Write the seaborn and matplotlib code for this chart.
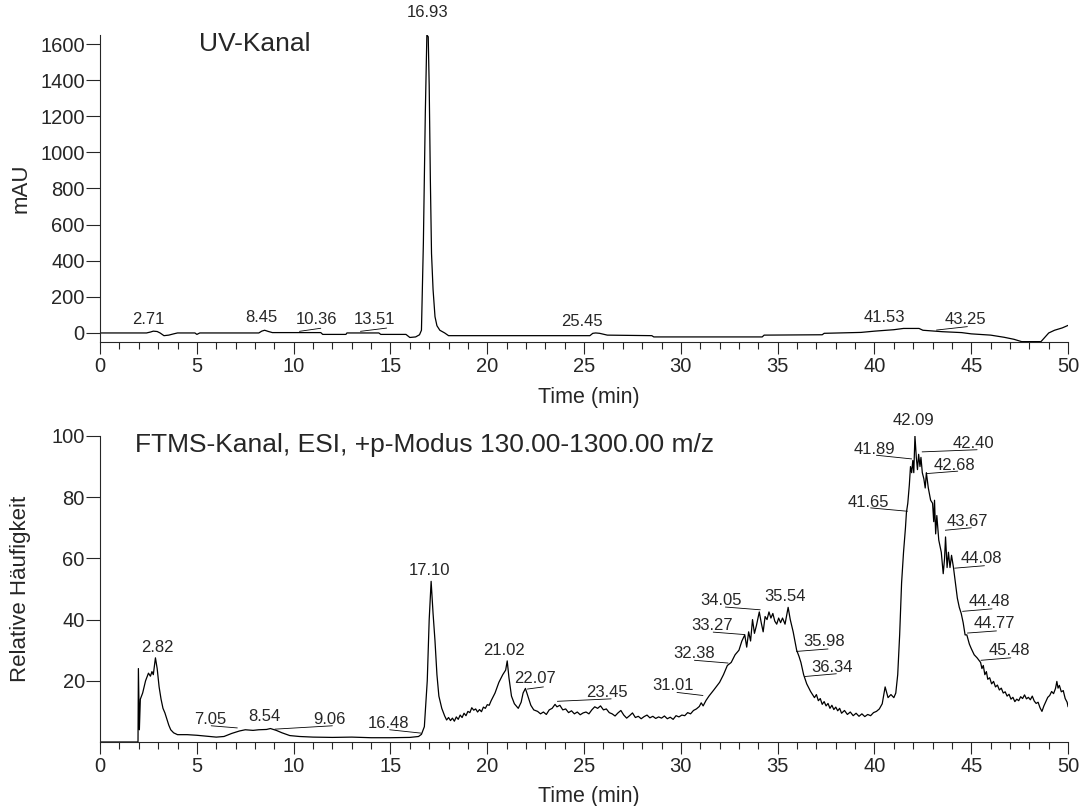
import matplotlib
matplotlib.use("Agg")
import matplotlib.pyplot as plt
from matplotlib.ticker import MultipleLocator
import seaborn as sns

# UV channel trace (time in min, mAU)
UV_TIME = [0, 2.4, 2.6, 2.75, 2.95, 3.1, 3.3, 3.55, 3.8, 4.0, 4.9, 5.0, 5.15, 8.2, 8.35,
           8.5, 8.7, 8.9, 11.4, 11.5, 12.7, 12.75, 14.4, 14.5, 15.8, 16.0, 16.3, 16.5,
           16.6, 16.7, 16.8, 16.88, 16.95, 17.0, 17.06, 17.12, 17.2, 17.3, 17.4, 17.55,
           17.8, 18.0, 25.3, 25.45, 25.6, 25.8, 26.2, 28.5, 28.6, 34.2, 34.3, 37.3, 37.4,
           39.3, 40.0, 41.0, 41.5, 42.3, 42.5, 43.5, 44.5, 45.0, 46.0, 46.7, 47.2, 47.6,
           48.6, 49.0, 49.3, 49.7, 50.0]
UV_MAU = [0, 0, 5, 10, 8, 0, -15, -12, -5, 0, 0, -8, 0, 0, 10,
          15, 8, 2, 2, -8, -8, 0, 0, -8, -8, -25, -22, -10,
          15, 500, 1220, 1650, 1640, 1370, 850, 440, 240, 90, 40, 15,
          0, -15, -15, -2, 0, -2, -12, -15, -22, -22, -12, -10, -2,
          3, 10, 18, 25, 25, 15, 7, 2, -5, -12, -24, -35, -48,
          -48, 0, 15, 28, 42]

# FTMS channel trace (time in min, relative abundance), ten points per line
MS_TIME = [0, 1.96, 1.98, 2.03, 2.08, 2.2, 2.35, 2.5, 2.6, 2.68,
           2.75, 2.86, 2.95, 3.05, 3.15, 3.25, 3.35, 3.45, 3.55, 3.65,
           3.8, 4.0, 4.5, 5.0, 5.5, 6.0, 6.4, 6.8, 7.2, 7.5,
           7.9, 8.2, 8.6, 8.8, 9.1, 9.4, 9.8, 10.3, 11.0, 12.0,
           13.0, 14.0, 15.0, 16.0, 16.45, 16.6, 16.75, 16.9, 17.0, 17.1,
           17.2, 17.3, 17.4, 17.5, 17.65, 17.8, 17.9, 18.0, 18.1, 18.2,
           18.3, 18.4, 18.5, 18.6, 18.7, 18.8, 18.9, 19.0, 19.1, 19.2,
           19.3, 19.4, 19.5, 19.6, 19.7, 19.8, 19.9, 20.0, 20.1, 20.2,
           20.4, 20.6, 20.8, 20.95, 21.03, 21.12, 21.25, 21.4, 21.6, 21.75,
           21.85, 21.97, 22.1, 22.25, 22.4, 22.6, 22.75, 22.9, 23.05, 23.2,
           23.35, 23.5, 23.6, 23.75, 23.9, 24.05, 24.2, 24.35, 24.5, 24.65,
           24.8, 24.95, 25.1, 25.25, 25.4, 25.55, 25.7, 25.85, 26.0, 26.15,
           26.3, 26.45, 26.6, 26.75, 26.9, 27.05, 27.2, 27.35, 27.5, 27.65,
           27.8, 27.95, 28.1, 28.25, 28.4, 28.55, 28.7, 28.85, 29.0, 29.15,
           29.3, 29.45, 29.6, 29.75, 29.9, 30.05, 30.2, 30.35, 30.5, 30.65,
           30.8, 30.95, 31.05, 31.15, 31.3, 31.45, 31.7, 32.0, 32.2, 32.4,
           32.6, 32.8, 33.0, 33.15, 33.3, 33.4, 33.5, 33.6, 33.7, 33.8,
           33.9, 34.05, 34.15, 34.25, 34.35, 34.45, 34.55, 34.65, 34.75, 34.85,
           34.95, 35.05, 35.15, 35.25, 35.38, 35.54, 35.65, 35.8, 35.98, 36.1,
           36.2, 36.34, 36.5, 36.7, 36.9, 37.0, 37.1, 37.2, 37.3, 37.4,
           37.5, 37.6, 37.7, 37.8, 37.9, 38.0, 38.1, 38.2, 38.3, 38.45,
           38.6, 38.75, 38.9, 39.05, 39.2, 39.35, 39.5, 39.65, 39.8, 39.95,
           40.1, 40.25, 40.4, 40.55, 40.7, 40.85, 41.0, 41.1, 41.2, 41.3,
           41.4, 41.5, 41.6, 41.65, 41.72, 41.8, 41.86, 41.92, 41.98, 42.03,
           42.09, 42.16, 42.22, 42.28, 42.35, 42.4, 42.47, 42.55, 42.62, 42.68,
           42.78, 42.9, 43.0, 43.06, 43.1, 43.16, 43.22, 43.32, 43.45, 43.55,
           43.62, 43.67, 43.75, 43.82, 43.9, 43.98, 44.08, 44.18, 44.28, 44.38,
           44.48, 44.58, 44.68, 44.77, 44.9, 45.0, 45.15, 45.3, 45.48, 45.55,
           45.62, 45.7, 45.78, 45.85, 45.95, 46.05, 46.15, 46.25, 46.35, 46.45,
           46.55, 46.65, 46.75, 46.85, 46.95, 47.05, 47.15, 47.25, 47.35, 47.45,
           47.55, 47.65, 47.75, 47.85, 47.95, 48.05, 48.15, 48.25, 48.35, 48.45,
           48.55, 48.65, 48.75, 48.85, 48.95, 49.05, 49.15, 49.25, 49.35, 49.42,
           49.48, 49.55, 49.65, 49.75, 49.85, 49.95, 50.0]
MS_REL = [0, 0, 24, 4, 14, 16, 20, 22.5, 21.5, 23,
          22, 27.5, 24, 18, 14, 11, 9.5, 7.5, 5.5, 4,
          3, 2.4, 2.4, 2.2, 1.9, 1.6, 1.8, 2.8, 3.6, 4.0,
          3.8, 4.0, 4.1, 4.4, 3.8, 3.0, 2.1, 1.8, 1.6, 1.5,
          1.6, 1.4, 1.4, 1.5, 1.8, 2.5, 5, 20, 40, 52.5,
          42, 33, 22, 15, 11, 8.5, 7.2, 8, 7, 7.8,
          6.8, 8.2, 7.4, 8.8, 8, 9.4, 8.6, 10, 9.6, 11.2,
          10.4, 10.8, 9.8, 10.6, 9.9, 11.4, 11, 12.2, 12, 13.5,
          16, 19.5, 22, 23.5, 26.5, 21, 15, 12.5, 11, 13,
          16, 17.5, 15, 12, 10.5, 10, 9.2, 9.8, 9, 10.5,
          11, 12.3, 11.5, 12, 10.5, 10.8, 9.6, 10.2, 9.2, 9.8,
          8.9, 9.5, 9.8, 9.2, 10.5, 11.5, 11, 11.8, 10.5, 10.8,
          9.6, 9.2, 8.5, 9.5, 10.3, 8.8, 7.8, 8.6, 9.5, 8,
          8.4, 7.6, 8.3, 8.8, 7.9, 8.4, 7.7, 8.2, 7.8, 8.5,
          7.6, 8.1, 7.4, 8.6, 8.2, 8.8, 8.6, 9.6, 9.2, 10.3,
          10.8, 11.6, 12.8, 11.8, 13.6, 15, 17, 19.5, 22, 25,
          26, 28.5, 30, 33, 35, 31, 36, 33, 40, 35.5,
          38, 42.5, 39, 36, 41, 40, 42.5, 40.5, 42, 39.5,
          38.5, 40.5, 39, 40.5, 38.5, 44, 40, 36, 30, 28,
          26, 22, 19, 16.5, 14.5, 15.5, 13.5, 14.2, 12.3, 13.2,
          11.8, 12.6, 11, 12, 10.6, 11.4, 10.2, 11, 9.4, 10.3,
          9, 9.8, 8.6, 9.4, 8.4, 9.2, 8.3, 9, 8.6, 9.6,
          10, 10.8, 12.5, 18, 14.5, 15.5, 14.5, 16, 22, 35,
          52, 62, 70, 75, 78, 84, 90, 88, 92, 88,
          100, 93, 89, 94, 90, 93, 88, 86, 83, 88,
          83, 79, 78, 72, 79, 68, 74, 66, 62, 55,
          60, 67, 57, 62, 57, 61, 57, 52, 47, 44,
          42, 39, 35, 35, 32, 30.5, 28.5, 27.5, 26, 24,
          25, 22, 23, 20.5, 21, 19, 19.8, 18, 18.6, 17,
          17.6, 16, 16.4, 15, 15.6, 14, 14.6, 13.2, 14, 13.5,
          14.8, 14.2, 15.4, 14.1, 14.6, 13.8, 15, 13.4, 12.6, 13,
          11.2, 10, 11.8, 13.2, 14.6, 15.2, 16.5, 15.8, 17.5, 19.8,
          17.6, 18.5, 16.4, 16.8, 14.2, 13, 11.5]

UV_PEAKS = ["2.71", "8.45", "10.36", "13.51", "16.93", "25.45", "41.53", "43.25"]
MS_PEAKS = ["2.82", "7.05", "8.54", "9.06", "16.48", "17.10", "21.02", "22.07", "23.45",
            "31.01", "32.38", "33.27", "34.05", "35.54", "35.98", "36.34", "41.65",
            "41.89", "42.09", "42.40", "42.68", "43.67", "44.08", "44.48", "44.77",
            "45.48"]

# label placement (x, y) and leader line ends (x0, y0, x1, y1), or None
UV_LABEL_POS = [(2.48, 72), (8.32, 83), (11.2, 72), (14.17, 72), (16.93, 1777),
                (24.9, 66), (40.5, 83), (44.7, 72)]
UV_LEADERS = [None, None, (10.3, 9, 11.4, 26), (13.45, 9, 14.8, 27), None, None, None,
              (43.2, 16, 44.8, 35)]
MS_LABEL_POS = [(2.95, 31), (5.69, 7.5), (8.48, 8.2), (11.84, 7.2), (14.88, 5.9),
                (17.0, 56), (20.84, 30), (22.44, 20.6), (26.2, 16.3), (29.6, 18.3),
                (30.7, 28.9), (31.6, 38), (32.1, 46.4), (35.4, 47.7), (37.4, 32.7),
                (37.8, 24.5), (39.7, 78.4), (40.0, 95.5), (42.0, 104.9), (45.1, 97.7),
                (44.15, 90.3), (44.8, 72.2), (45.5, 59.8), (45.95, 45.8), (46.17, 38.6),
                (46.95, 30)]
MS_LEADERS = [None, (5.74, 5.3, 7.09, 4.6), None, (9.03, 4.2, 12.0, 5.3),
              (14.96, 4.0, 16.58, 2.9), None, None, (22.07, 17.3, 22.9, 18.0),
              (23.62, 13.3, 26.4, 14.1), (29.8, 16.2, 31.14, 15.2),
              (30.7, 26.7, 32.44, 25.8), (31.67, 35.9, 33.3, 35.1),
              (32.3, 44.1, 34.1, 43.2), None, (35.97, 29.6, 37.6, 30.4),
              (36.4, 21.4, 38.03, 22.3), (39.8, 76.5, 41.7, 75.4),
              (40.1, 93.7, 41.92, 92.5), None, (42.46, 94.8, 45.3, 95.5),
              (42.67, 87.7, 44.3, 88.5), (43.66, 69.2, 45.0, 70.0),
              (44.14, 56.8, 45.68, 57.6), (44.55, 42.7, 46.07, 43.5),
              (44.8, 35.6, 46.3, 36.3), (45.5, 26.7, 47.04, 27.5)]


def style_axis(ax):
    sns.despine(ax=ax)
    ax.set_xlim(0, 50)
    ax.xaxis.set_major_locator(MultipleLocator(5))
    ax.xaxis.set_minor_locator(MultipleLocator(1))
    ax.tick_params(axis="x", which="major", length=8.6, width=0.8, labelsize=14.5, pad=2)
    ax.tick_params(axis="x", which="minor", length=5, width=0.8)
    ax.tick_params(axis="y", length=10, width=0.8, labelsize=14.5, pad=1)
    for s in ax.spines.values():
        s.set_linewidth(0.8)
    ax.set_xlabel("Time (min)", fontsize=15.5)
    ax.xaxis.set_label_coords(0.505, -0.145)
    ax.yaxis.set_label_coords(-0.071, 0.5)


def annotate(ax, labels, positions, leaders):
    for lab, (x, y), lead in zip(labels, positions, leaders):
        ax.text(x, y, lab, ha="center", va="center", fontsize=12, clip_on=False)
        if lead is not None:
            ax.plot([lead[0], lead[2]], [lead[1], lead[3]], color="black", lw=0.6)


def main():
    sns.set_style("ticks")
    plt.rcParams["font.family"] = ["Liberation Sans", "DejaVu Sans"]

    fig = plt.figure(figsize=(10.9, 8.06), dpi=100)
    ax1 = fig.add_axes([0.0918, 0.5757, 0.8881, 0.3809])
    ax2 = fig.add_axes([0.0918, 0.0794, 0.8881, 0.3797])

    sns.lineplot(x=UV_TIME, y=UV_MAU, ax=ax1, color="black", linewidth=0.9)
    style_axis(ax1)
    ax1.set_ylim(-50, 1650)
    ax1.set_yticks(range(0, 1601, 200))
    ax1.set_ylabel("mAU", fontsize=16)
    ax1.text(5.1, 1600, "UV-Kanal", fontsize=19, va="center", ha="left")
    annotate(ax1, UV_PEAKS, UV_LABEL_POS, UV_LEADERS)

    sns.lineplot(x=MS_TIME, y=MS_REL, ax=ax2, color="black", linewidth=0.9)
    style_axis(ax2)
    ax2.set_ylim(0, 100)
    ax2.set_yticks(range(20, 101, 20))
    ax2.set_ylabel("Relative Häufigkeit", fontsize=16)
    ax2.text(1.8, 97, "FTMS-Kanal, ESI, +p-Modus 130.00-1300.00 m/z", fontsize=19,
             va="center", ha="left")
    annotate(ax2, MS_PEAKS, MS_LABEL_POS, MS_LEADERS)

    fig.savefig("out.png", dpi=100)
    plt.close(fig)


if __name__ == "__main__":
    main()
